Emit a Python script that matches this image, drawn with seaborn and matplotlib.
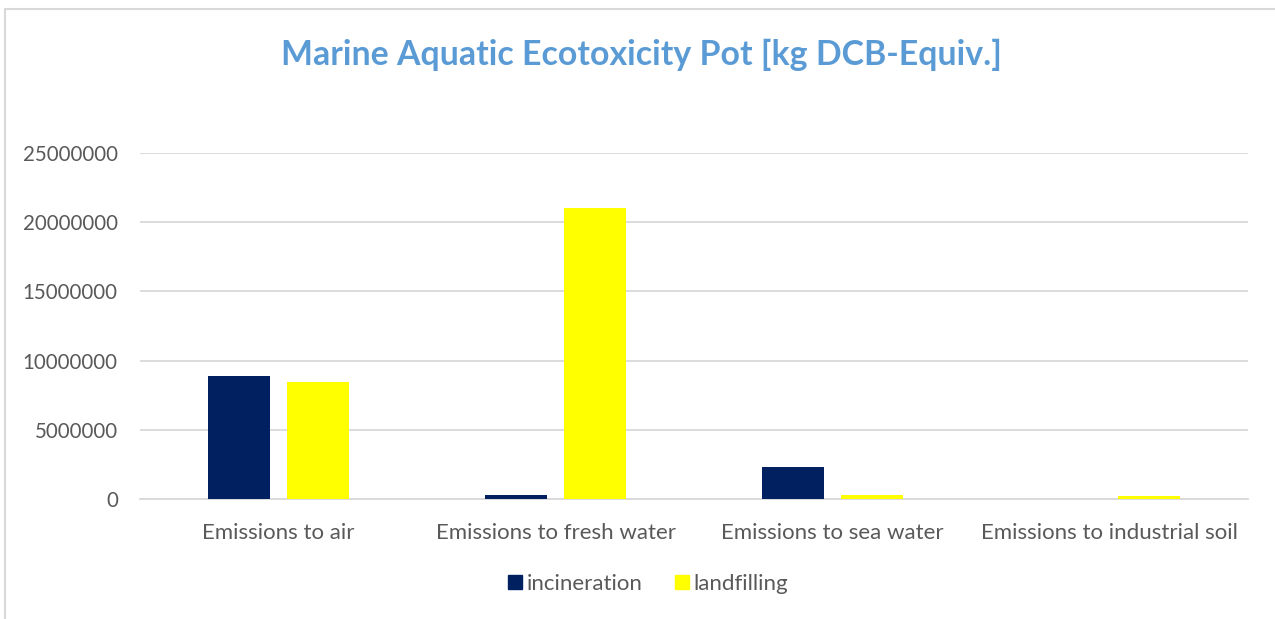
import matplotlib
matplotlib.use("Agg")
import matplotlib.pyplot as plt
from matplotlib.lines import Line2D
import seaborn as sns
import pandas as pd

categories = ["Emissions to air", "Emissions to fresh water",
              "Emissions to sea water", "Emissions to industrial soil"]
incineration = [8.9e6, 0.27e6, 2.31e6, 0.0]
landfilling = [8.45e6, 21.03e6, 0.3e6, 0.2e6]
series_names = ["incineration", "landfilling"]
y_ticks = [0, 5000000, 10000000, 15000000, 20000000, 25000000]
title = "Marine Aquatic Ecotoxicity Pot [kg DCB-Equiv.]"

df = pd.DataFrame({
    "category": categories * 2,
    "value": incineration + landfilling,
    "series": [series_names[0]] * 4 + [series_names[1]] * 4,
})

sns.set_theme(style="white")
plt.rcParams["font.family"] = ["Lato", "DejaVu Sans"]

text_gray = "#595959"
grid_gray = "#D9D9D9"
palette = {"incineration": "#002060", "landfilling": "#FFFF00"}

fig = plt.figure(figsize=(12.75, 6.19), dpi=100)
ax = fig.add_axes([140 / 1275, 1 - 499 / 619, 1108 / 1275, 346 / 619])

sns.barplot(data=df, x="category", y="value", hue="series", order=categories,
            hue_order=series_names, palette=palette, width=0.57, gap=0.215,
            saturation=1, ax=ax, legend=False, linewidth=0, errorbar=None)
for patch in ax.patches:
    patch.set_zorder(3)

ax.set_ylim(0, 25000000)
ax.set_xlim(-0.5, 3.5)
ax.set_yticks(y_ticks)
ax.set_yticklabels([str(v) for v in y_ticks])
ax.yaxis.grid(True, color=grid_gray, linewidth=1.3)
ax.set_axisbelow(True)
for side in ["top", "right", "left"]:
    ax.spines[side].set_visible(False)
ax.spines["bottom"].set_color(grid_gray)
ax.spines["bottom"].set_linewidth(1.3)
ax.spines["bottom"].set_zorder(1)
ax.tick_params(axis="both", length=0, colors=text_gray)
ax.tick_params(axis="y", pad=16, labelsize=14.8)
ax.tick_params(axis="x", pad=17, labelsize=16)
ax.set_xlabel("")
ax.set_ylabel("")

fig.text(641 / 1275, 1 - 55 / 619, title, ha="center", va="center",
         fontsize=24.4, fontweight="bold", color="#5B9BD5")

handles = [Line2D([0], [0], marker="s", linestyle="none", markersize=10.5,
                  markerfacecolor=palette[s], markeredgecolor=palette[s])
           for s in series_names]
fig.legend(handles, series_names, loc="center", ncol=2, frameon=False,
           bbox_to_anchor=(645 / 1275, 1 - 584 / 619), fontsize=16,
           labelcolor=text_gray, handletextpad=-0.1, columnspacing=1.2,
           handlelength=1.2)

# chart frame (top and left edges)
fig.add_artist(Line2D([4.5 / 1275, 4.5 / 1275], [0, 1 - 9 / 619],
                      transform=fig.transFigure, color=grid_gray, linewidth=1.5))
fig.add_artist(Line2D([4.5 / 1275, 1], [1 - 9 / 619, 1 - 9 / 619],
                      transform=fig.transFigure, color=grid_gray, linewidth=1.5))

fig.savefig("out.png", dpi=100, facecolor="white")
